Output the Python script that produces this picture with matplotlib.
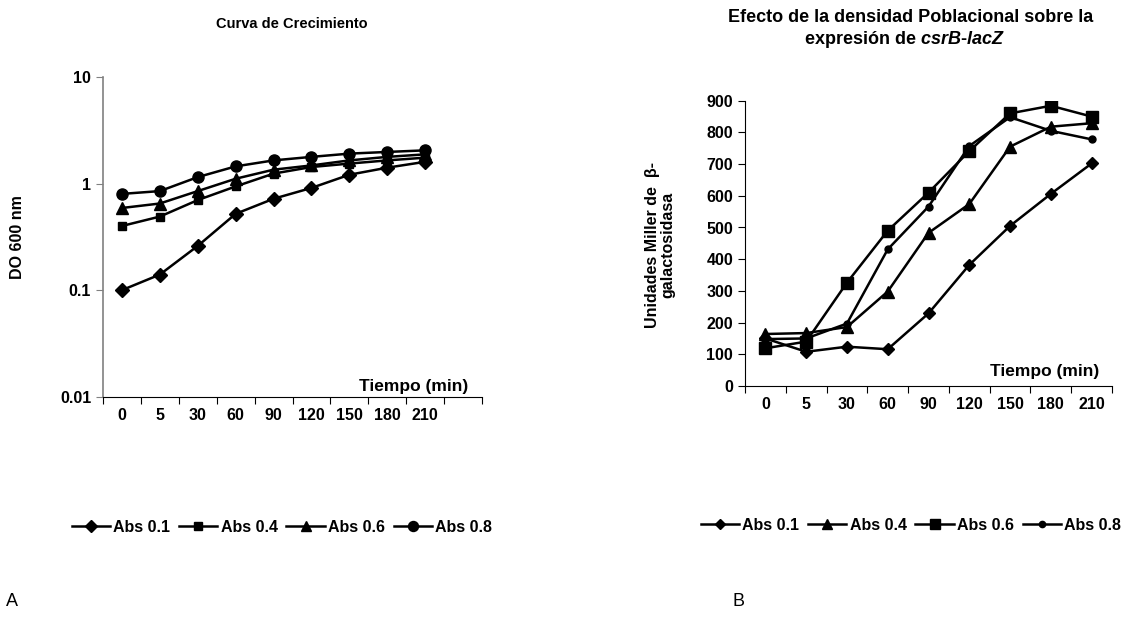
import matplotlib
matplotlib.use("Agg")
import matplotlib.pyplot as plt
from matplotlib.ticker import FixedLocator, NullLocator, FixedFormatter

plt.rcParams['font.family'] = ['Liberation Sans', 'DejaVu Sans']
plt.rcParams['mathtext.fontset'] = 'custom'
plt.rcParams['mathtext.bfit'] = 'Liberation Sans:italic:bold'
plt.rcParams['mathtext.it'] = 'Liberation Sans:italic:bold'
plt.rcParams['mathtext.rm'] = 'Liberation Sans:bold'

times = ["0", "5", "30", "60", "90", "120", "150", "180", "210"]
series_labels = ["Abs 0.1", "Abs 0.4", "Abs 0.6", "Abs 0.8"]

# Panel A: growth curve (DO 600 nm, log scale)
do_01 = [0.10, 0.14, 0.26, 0.52, 0.72, 0.91, 1.21, 1.41, 1.60]
do_04 = [0.40, 0.49, 0.70, 0.94, 1.24, 1.43, 1.54, 1.65, 1.75]
do_06 = [0.59, 0.65, 0.85, 1.11, 1.35, 1.48, 1.65, 1.78, 1.88]
do_08 = [0.80, 0.85, 1.15, 1.45, 1.65, 1.78, 1.91, 1.98, 2.05]

# Panel B: Miller units
mu_01 = [150, 108, 124, 116, 229, 382, 505, 606, 702]
mu_04 = [164, 167, 186, 298, 483, 574, 755, 818, 829]
mu_06 = [119, 140, 326, 490, 610, 741, 860, 884, 850]
mu_08 = [148, 150, 197, 431, 566, 757, 848, 805, 778]

fig = plt.figure(figsize=(11.36, 6.17), dpi=100)
fs_tick = 11.5
fs_lab = 11.5
fs_leg = 11.5
leg_kw = dict(ncol=4, frameon=False, prop={'weight': 'bold', 'size': fs_leg},
              handlelength=2.4, handletextpad=0.2, columnspacing=0.55, markerscale=0.9)

def style_axes(ax, ncat_slots, yoff):
    ax.set_xticks([i - 0.5 for i in range(ncat_slots + 1)])
    ax.set_xticklabels([])
    ax.set_xticks(list(range(len(times))), minor=True)
    ax.set_xticklabels(times, minor=True)
    ax.tick_params(axis='x', which='minor', length=0, pad=8)
    ax.tick_params(axis='x', which='major', length=5, direction='out', width=0.8)
    for lbl in ax.get_xticklabels(minor=True) + ax.get_yticklabels():
        lbl.set_fontweight('bold'); lbl.set_fontsize(fs_tick)
    ax.spines['top'].set_visible(False)
    ax.spines['right'].set_visible(False)
    ax.text(0.965, yoff, "Tiempo (min)", transform=ax.transAxes, ha='right', va='bottom',
            fontsize=12.5, fontweight='bold')

# ---------- Panel A ----------
axA = fig.add_axes([103/1136, 1-396.7/617, (482-103)/1136, (396.7-77)/617])
x = list(range(len(times)))
styleA = [dict(marker='D', ms=7), dict(marker='s', ms=6), dict(marker='^', ms=8), dict(marker='o', ms=8)]
for data, lab, st in zip([do_01, do_04, do_06, do_08], series_labels, styleA):
    axA.plot(x, data, color='black', lw=1.8, label=lab, **st)
axA.set_yscale('log')
axA.set_ylim(0.01, 10)
axA.set_xlim(-0.5, 9.5)
axA.yaxis.set_major_locator(FixedLocator([0.01, 0.1, 1, 10]))
axA.yaxis.set_major_formatter(FixedFormatter(["0.01", "0.1", "1", "10"]))
axA.yaxis.set_minor_locator(NullLocator())
axA.tick_params(axis='y', length=5, direction='out', width=0.8, color='#808080')
style_axes(axA, 10, 0.008)
axA.spines['left'].set_color('#808080')
axA.spines['left'].set_linewidth(1.2)
fig.text(18/1136, 1-237/617, "DO 600 nm", rotation=90, ha='center', va='center',
         fontsize=fs_lab, fontweight='bold')
fig.text(292/1136, 1-24/617, "Curva de Crecimiento", ha='center', va='center',
         fontsize=10.5, fontweight='bold')
hA, lA = axA.get_legend_handles_labels()
fig.legend(hA, lA, loc='center', bbox_to_anchor=(282/1136, 1-527/617), **leg_kw)

# ---------- Panel B ----------
axB = fig.add_axes([745/1136, 1-386/617, (1112-745)/1136, (386-100.7)/617])
styleB = [dict(marker='D', ms=6), dict(marker='^', ms=8), dict(marker='s', ms=8), dict(marker='o', ms=5)]
for data, lab, st in zip([mu_01, mu_04, mu_06, mu_08], series_labels, styleB):
    axB.plot(x, data, color='black', lw=1.8, label=lab, **st)
axB.set_ylim(0, 900)
axB.set_xlim(-0.5, 8.5)
axB.set_yticks(range(0, 1000, 100))
axB.tick_params(axis='y', length=5, direction='out', width=0.8)
style_axes(axB, 9, 0.025)
fig.text(660/1136, 1-245/617, "Unidades Miller de  β-\ngalactosidasa", rotation=90,
         ha='center', va='center', fontsize=fs_lab, fontweight='bold', linespacing=1.05)
fig.text(911/1136, 1-18/617, "Efecto de la densidad Poblacional sobre la",
         ha='center', va='center', fontsize=13, fontweight='bold')
fig.text(904/1136, 1-40/617, r"expresión de $\mathit{csrB}$-$\mathit{lacZ}$",
         ha='center', va='center', fontsize=13, fontweight='bold')
hB, lB = axB.get_legend_handles_labels()
fig.legend(hB, lB, loc='center', bbox_to_anchor=(911/1136, 1-525/617), **leg_kw)

fig.text(12/1136, 1-602/617, "A", ha='center', va='center', fontsize=13)
fig.text(738/1136, 1-602/617, "B", ha='center', va='center', fontsize=13)

fig.savefig("out.png", dpi=100)
